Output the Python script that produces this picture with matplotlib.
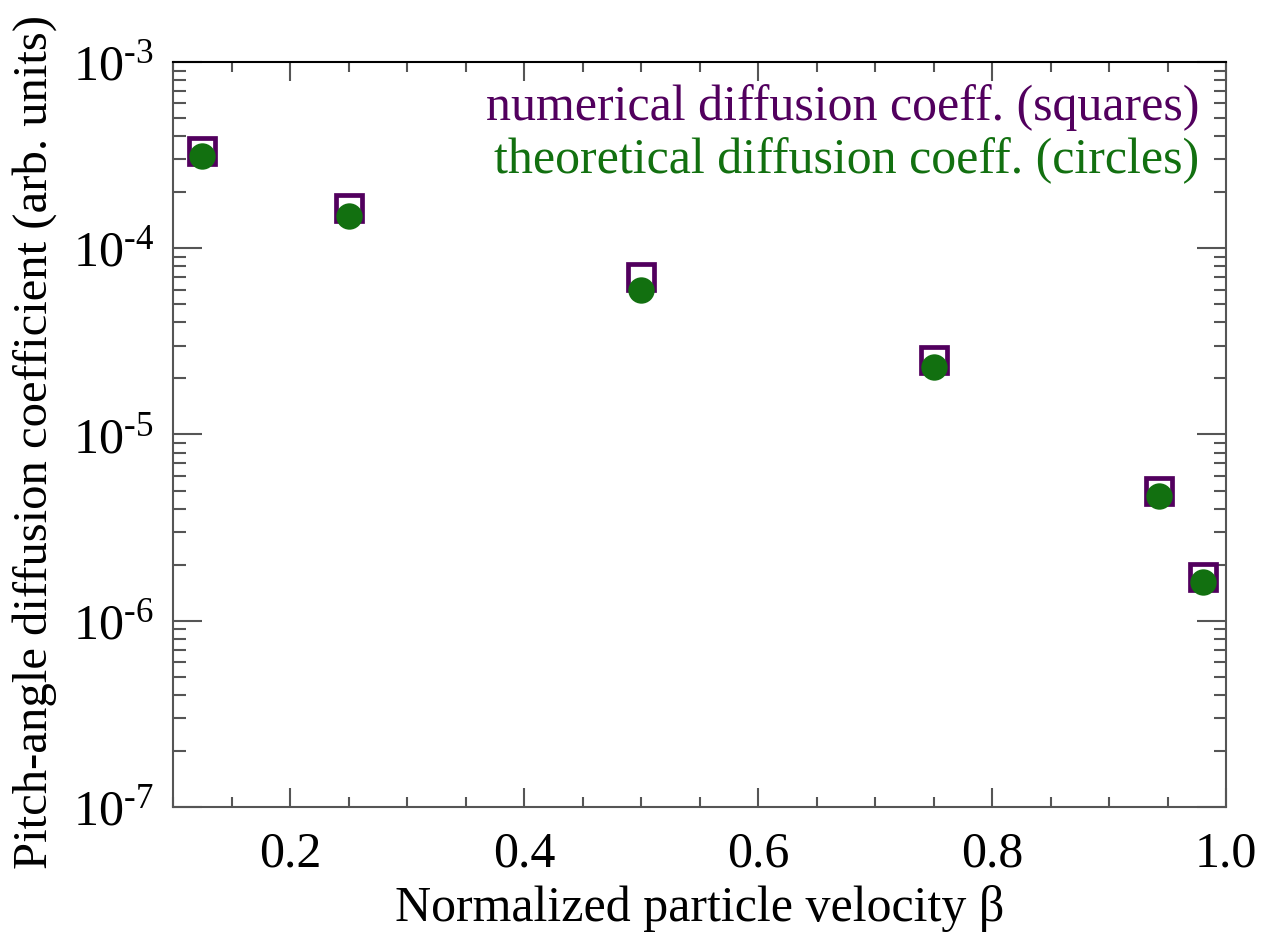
import math
import matplotlib
matplotlib.use("Agg")
import matplotlib.pyplot as plt
from matplotlib.ticker import LogLocator, MultipleLocator, FixedLocator, FuncFormatter, NullFormatter

plt.rcParams['font.family'] = ['Liberation Serif', 'DejaVu Serif']
plt.rcParams['mathtext.fontset'] = 'custom'
plt.rcParams['mathtext.rm'] = 'Liberation Serif'
plt.rcParams['mathtext.it'] = 'Liberation Serif:italic'

beta = [0.125, 0.25, 0.5, 0.75, 0.943, 0.98]
numerical = [3.34e-4, 1.64e-4, 7.0e-5, 2.51e-5, 5.0e-6, 1.72e-6]
theoretical = [3.14e-4, 1.49e-4, 5.97e-5, 2.30e-5, 4.68e-6, 1.61e-6]
xticks = [0.2, 0.4, 0.6, 0.8, 1.0]
yticks = [1e-7, 1e-6, 1e-5, 1e-4, 1e-3]

purple = '#52005e'
green = '#127010'
axcol = '#555555'

fig = plt.figure(figsize=(12.73, 9.38), dpi=100)
ax = fig.add_axes([0.1359, 0.1397, 0.9631 - 0.1359, 0.9339 - 0.1397])

ax.plot(beta, numerical, linestyle='none', marker='s', markersize=18.5,
        markerfacecolor='none', markeredgecolor=purple, markeredgewidth=3.4)
ax.plot(beta, theoretical, linestyle='none', marker='o', markersize=19,
        markerfacecolor=green, markeredgecolor=green, markeredgewidth=0)

ax.set_yscale('log')
ax.set_xlim(0.1, 1.0)
ax.set_ylim(1e-7, 1e-3)

ax.xaxis.set_major_locator(FixedLocator(xticks))
ax.xaxis.set_minor_locator(MultipleLocator(0.05))
ax.xaxis.set_major_formatter(FuncFormatter(lambda v, p: f"{v:.1f}"))
ax.yaxis.set_major_locator(FixedLocator(yticks))
ax.yaxis.set_minor_locator(LogLocator(base=10, subs=range(2, 10), numticks=20))
ax.yaxis.set_minor_formatter(NullFormatter())

def yfmt(v, p):
    e = int(round(math.log10(v)))
    return '$\\mathregular{10^{\u2010%d}}$' % (-e)
ax.yaxis.set_major_formatter(FuncFormatter(yfmt))

for s in ax.spines.values():
    s.set_color(axcol)
    s.set_linewidth(1.5)
ax.spines['top'].set_color('black')

ax.tick_params(which='both', direction='in', top=True, right=True, colors=axcol)
ax.tick_params(which='major', axis='x', length=14, width=1.5, labelsize=36, pad=17, labelcolor='black')
ax.tick_params(which='minor', axis='x', length=7, width=1.5)
ax.tick_params(which='major', axis='y', length=21, width=1.5, labelsize=36, pad=14, labelcolor='black')
ax.tick_params(which='minor', axis='y', length=9, width=1.5)

ax.set_xlabel('Normalized particle velocity β', fontsize=36, labelpad=6)
ax.set_ylabel('Pitch-angle diffusion coefficient (arb. units)', fontsize=35, labelpad=8)
ax.yaxis.set_label_coords(-0.11, 0.49)

ax.text(0.975, 0.922, 'numerical diffusion coeff. (squares)', transform=ax.transAxes,
        ha='right', va='baseline', fontsize=36, color=purple)
ax.text(0.975, 0.851, 'theoretical diffusion coeff. (circles)', transform=ax.transAxes,
        ha='right', va='baseline', fontsize=36, color=green)

fig.savefig('out.png', dpi=100)
